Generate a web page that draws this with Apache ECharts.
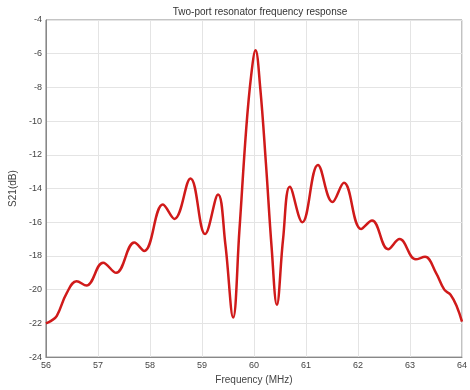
<!DOCTYPE html>
<html><head><meta charset="utf-8">
<script src="https://cdn.jsdelivr.net/npm/echarts@6/dist/echarts.min.js"></script>
<style>html,body{margin:0;padding:0;background:#fff}#c{width:470px;height:390px}</style>
</head><body><div id="c"></div>
<script>
var freqMHz = [56.0, 56.1, 56.21, 56.4, 56.59, 56.78, 57.1, 57.35, 57.7, 57.89, 58.25, 58.47, 58.78, 59.06, 59.31, 59.45, 59.6, 59.72, 59.85, 59.95, 60.03, 60.12, 60.23, 60.34, 60.44, 60.56, 60.69, 60.93, 61.23, 61.51, 61.73, 62.06, 62.27, 62.58, 62.8, 63.11, 63.29, 63.5, 63.66, 63.78, 63.9, 64.0];
var s21dB   = [-22.0, -21.85, -21.55, -20.2, -19.5, -19.75, -18.4, -19.0, -17.2, -17.7, -14.95, -15.8, -13.4, -16.7, -14.35, -17.3, -21.65, -16.5, -10.5, -7.2, -5.8, -8.0, -12.5, -17.5, -20.9, -17.0, -13.9, -16.0, -12.6, -14.8, -13.66, -16.4, -15.9, -17.6, -17.0, -18.2, -18.05, -19.0, -20.0, -20.3, -21.0, -21.9];
var xTicks = [56, 57, 58, 59, 60, 61, 62, 63, 64];
var yTicks = [-24, -22, -20, -18, -16, -14, -12, -10, -8, -6, -4];
var titleText = 'Two-port resonator frequency response';
var xName = 'Frequency (MHz)';
var yName = 'S21(dB)';

var pts = freqMHz.map(function (f, i) { return [f, s21dB[i]]; });
var chart = echarts.init(document.getElementById('c'));
var lab = {fontSize: 9, color: '#444', fontFamily: 'Liberation Sans'};
var nm = {fontSize: 10, color: '#444', fontFamily: 'Liberation Sans'};
chart.setOption({
  animation: false,
  title: {text: titleText, left: 255, top: 2, textAlign: 'center',
    textStyle: {fontSize: 10, fontWeight: 'normal', color: '#333', fontFamily: 'Liberation Sans'}},
  grid: {left: 44, right: 5, top: 20, bottom: 32, show: true, borderColor: '#888', borderWidth: 1},
  xAxis: {type: 'value', min: xTicks[0], max: xTicks[xTicks.length - 1], interval: 1,
    name: xName, nameLocation: 'middle', nameGap: 16, nameTextStyle: nm,
    axisLine: {lineStyle: {color: '#888'}}, axisTick: {show: false},
    axisLabel: Object.assign({margin: 4}, lab),
    splitLine: {lineStyle: {color: '#e4e4e4'}}},
  yAxis: {type: 'value', min: yTicks[0], max: yTicks[yTicks.length - 1], interval: 2,
    name: yName, nameLocation: 'middle', nameGap: 25, nameTextStyle: nm,
    axisLine: {show: true, lineStyle: {color: '#888'}}, axisTick: {show: false},
    axisLabel: Object.assign({margin: 4}, lab),
    splitLine: {lineStyle: {color: '#e4e4e4'}}},
  series: [{type: 'line', data: pts, smooth: 0.4, showSymbol: false,
    lineStyle: {color: '#d01a1a', width: 2.5}}]
});
</script></body></html>
